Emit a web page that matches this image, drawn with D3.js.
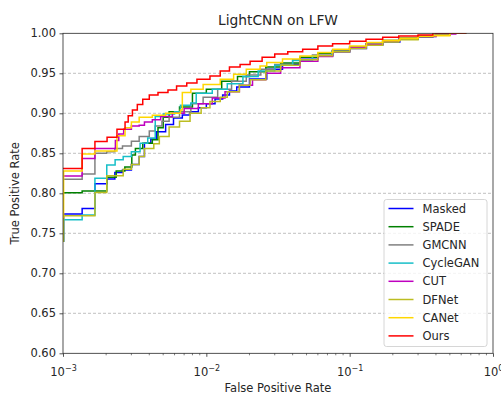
<!DOCTYPE html>
<html><head><meta charset="utf-8">
<script src="https://cdn.jsdelivr.net/npm/d3@7/dist/d3.min.js"></script>
<style>body{margin:0;background:#fff}svg{display:block;font-family:"DejaVu Sans",sans-serif}</style>
</head><body>
<svg id="c" width="501" height="396"></svg>
<script>
const title = "LightCNN on LFW";
const xLabel = "False Positive Rate";
const yLabel = "True Positive Rate";
const yTicks = [0.60,0.65,0.70,0.75,0.80,0.85,0.90,0.95,1.00];
const xTicks = [1e-3,1e-2,1e-1,1e0];
const xTickExp = ["\u22123","\u22122","\u22121","0"];
const names = ["Masked","SPADE","GMCNN","CycleGAN","CUT","DFNet","CANet","Ours"];
const colors = ["#0000ff","#008000","#808080","#17bfc8","#bf00bf","#bcbd22","#ffd700","#ff0000"];

const masked = [[0.0009,0.74],[0.00101,0.774],[0.00136,0.781],[0.00167,0.812],[0.00202,0.818],[0.0023,0.826],[0.0026,0.829],[0.0030,0.836],[0.0034,0.846],[0.0037,0.8625],[0.0041,0.868],[0.0045,0.877],[0.0052,0.886],[0.0059,0.894],[0.0068,0.898],[0.0077,0.902],[0.0088,0.907],[0.010,0.912],[0.0115,0.918],[0.013,0.923],[0.0145,0.928],[0.0163,0.933],[0.020,0.943],[0.0264,0.955],[0.034,0.961],[0.045,0.9675],[0.060,0.972],[0.0763,0.977],[0.10,0.981],[0.131,0.9854],[0.17,0.989],[0.224,0.9925],[0.30,0.995],[0.38,0.9975],[0.50,1.0],[0.65,1.0]];
const spade = [[0.0009,0.745],[0.00099,0.8008],[0.00136,0.803],[0.00202,0.820],[0.00235,0.828],[0.0027,0.833],[0.00302,0.848],[0.0032,0.856],[0.0036,0.8625],[0.0042,0.867],[0.0046,0.882],[0.0050,0.895],[0.0055,0.902],[0.0065,0.908],[0.0080,0.925],[0.0100,0.930],[0.0128,0.940],[0.0165,0.946],[0.020,0.952],[0.026,0.958],[0.033,0.963],[0.045,0.970],[0.060,0.975],[0.076,0.979],[0.10,0.983],[0.13,0.987],[0.17,0.991],[0.22,0.994],[0.30,0.997],[0.40,0.999],[0.50,1.0],[0.65,1.0]];
const gmcnn = [[0.0009,0.78],[0.00099,0.8175],[0.00136,0.824],[0.00167,0.850],[0.00202,0.852],[0.0023,0.856],[0.0026,0.859],[0.0030,0.865],[0.0034,0.871],[0.0040,0.878],[0.0044,0.884],[0.0049,0.890],[0.0055,0.895],[0.0065,0.902],[0.0078,0.912],[0.0095,0.920],[0.012,0.930],[0.015,0.940],[0.019,0.948],[0.024,0.955],[0.030,0.961],[0.040,0.967],[0.055,0.973],[0.075,0.978],[0.10,0.983],[0.13,0.987],[0.17,0.991],[0.22,0.994],[0.30,0.997],[0.40,0.999],[0.50,1.0],[0.65,1.0]];
const cyclegan = [[0.0009,0.74],[0.00101,0.767],[0.00136,0.773],[0.00167,0.8188],[0.00202,0.8354],[0.00231,0.842],[0.00263,0.846],[0.0030,0.852],[0.00345,0.8625],[0.0039,0.869],[0.0044,0.896],[0.0050,0.899],[0.0060,0.902],[0.0066,0.910],[0.0078,0.913],[0.0085,0.925],[0.011,0.930],[0.014,0.937],[0.018,0.946],[0.023,0.953],[0.030,0.960],[0.040,0.966],[0.055,0.972],[0.075,0.977],[0.10,0.982],[0.13,0.986],[0.17,0.990],[0.22,0.993],[0.30,0.996],[0.40,0.999],[0.50,1.0],[0.65,1.0]];
const cut = [[0.0009,0.78],[0.00099,0.8217],[0.00136,0.8434],[0.00167,0.856],[0.00232,0.866],[0.00245,0.874],[0.00265,0.880],[0.0030,0.884],[0.0034,0.885],[0.0037,0.889],[0.0042,0.892],[0.0048,0.896],[0.0058,0.900],[0.0070,0.906],[0.0088,0.912],[0.011,0.919],[0.0135,0.927],[0.017,0.935],[0.021,0.942],[0.026,0.950],[0.033,0.957],[0.045,0.965],[0.060,0.971],[0.076,0.977],[0.10,0.982],[0.13,0.986],[0.17,0.990],[0.22,0.993],[0.30,0.996],[0.40,0.999],[0.55,1.0],[0.65,1.0]];
const dfnet = [[0.0009,0.74],[0.00101,0.772],[0.00167,0.801],[0.00202,0.822],[0.00263,0.830],[0.0030,0.836],[0.0034,0.846],[0.0037,0.856],[0.0043,0.862],[0.0047,0.871],[0.0055,0.883],[0.0065,0.890],[0.0077,0.900],[0.0092,0.907],[0.0106,0.9146],[0.0125,0.920],[0.0140,0.927],[0.017,0.935],[0.0202,0.942],[0.026,0.953],[0.033,0.960],[0.045,0.967],[0.060,0.972],[0.076,0.977],[0.10,0.981],[0.13,0.985],[0.17,0.989],[0.22,0.992],[0.30,0.996],[0.38,0.998],[0.50,1.0],[0.65,1.0]];
const canet = [[0.0009,0.77],[0.00101,0.828],[0.00136,0.849],[0.00167,0.853],[0.00238,0.872],[0.00271,0.882],[0.0030,0.889],[0.0034,0.895],[0.0042,0.8975],[0.0052,0.900],[0.0066,0.904],[0.0068,0.926],[0.0078,0.930],[0.0095,0.936],[0.0125,0.9425],[0.0155,0.9487],[0.019,0.955],[0.0237,0.959],[0.0264,0.9634],[0.034,0.968],[0.045,0.9717],[0.060,0.976],[0.0763,0.980],[0.10,0.984],[0.131,0.9884],[0.17,0.991],[0.224,0.9938],[0.30,0.996],[0.38,0.997],[0.50,1.0],[0.65,1.0]];
const ours = [[0.00095,0.831],[0.00136,0.856],[0.00167,0.8646],[0.00203,0.870],[0.00238,0.880],[0.00271,0.889],[0.00285,0.897],[0.00305,0.904],[0.00330,0.911],[0.00360,0.9175],[0.00400,0.923],[0.00460,0.926],[0.00540,0.929],[0.00620,0.934],[0.0073,0.938],[0.0086,0.9425],[0.0106,0.9467],[0.0125,0.953],[0.0145,0.958],[0.0172,0.961],[0.0202,0.965],[0.0245,0.970],[0.030,0.974],[0.037,0.977],[0.047,0.980],[0.060,0.984],[0.076,0.987],[0.10,0.990],[0.13,0.9925],[0.17,0.995],[0.22,0.9966],[0.30,0.998],[0.38,1.0],[0.65,1.0]];
const series = [masked, spade, gmcnn, cyclegan, cut, dfnet, canet, ours];

const svg = d3.select("#c");
const L = 63, R = 493, T = 33.3, B = 353.3;
const x = d3.scaleLog().domain([1e-3, 1]).range([L, R]);
const y = d3.scaleLinear().domain([0.6, 1.0]).range([B, T]);

svg.append("defs").append("clipPath").attr("id","clip")
  .append("rect").attr("x",L).attr("y",T).attr("width",R-L).attr("height",B-T);

// grid
svg.append("g").selectAll("line").data(yTicks.slice(1, -1)).join("line")
  .attr("x1",L).attr("x2",R).attr("y1",d=>y(d)).attr("y2",d=>y(d))
  .attr("stroke","#b0b0b0").attr("stroke-width",0.8).attr("stroke-dasharray","3,2");

// lines
const line = d3.line().x(d=>x(d[0])).y(d=>y(d[1])).curve(d3.curveStepAfter);
svg.append("g").attr("clip-path","url(#clip)").selectAll("path").data(series).join("path")
  .attr("d", line).attr("fill","none").attr("stroke",(d,i)=>colors[i]).attr("stroke-width",1.5)
  .attr("stroke-linejoin","miter");

// axes
const yAxis = d3.axisLeft(y).tickValues(yTicks).tickFormat(d3.format(".2f")).tickSize(3.5).tickPadding(3.5);
const gy = svg.append("g").attr("transform",`translate(${L},0)`).call(yAxis);
gy.select(".domain").remove();
gy.selectAll("text").attr("font-size",11.5).attr("font-family","DejaVu Sans").attr("fill","#262626");
gy.selectAll("line").attr("stroke","#262626").attr("stroke-width",0.8);

const minor = [];
for (let e = -3; e < 0; e++) for (let k = 2; k < 10; k++) minor.push(k * Math.pow(10, e));
const gxm = svg.append("g").attr("transform",`translate(0,${B})`);
gxm.selectAll("line").data(minor).join("line")
  .attr("x1",d=>x(d)).attr("x2",d=>x(d)).attr("y1",0).attr("y2",2)
  .attr("stroke","#262626").attr("stroke-width",0.6);
const xAxis = d3.axisBottom(x).tickValues(xTicks).tickFormat(()=> "").tickSize(3.5);
const gx = svg.append("g").attr("transform",`translate(0,${B})`).call(xAxis);
gx.select(".domain").remove();
gx.selectAll("line").attr("stroke","#262626").attr("stroke-width",0.8);
gx.selectAll(".tick").each(function(d,i){
  const t = d3.select(this).select("text").attr("font-size",11.5).attr("font-family","DejaVu Sans")
    .attr("fill","#262626").attr("y",null).attr("dy",null).attr("text-anchor","middle")
    .attr("transform","translate(0,23)");
  t.text(null);
  t.append("tspan").text("10");
  t.append("tspan").attr("font-size",8).attr("dy",-5).text(xTickExp[i]);
});

// spines
svg.append("rect").attr("x",L).attr("y",T).attr("width",R-L).attr("height",B-T)
  .attr("fill","none").attr("stroke","#262626").attr("stroke-width",0.8);

// titles
svg.append("text").attr("x",(L+R)/2).attr("y",25).attr("text-anchor","middle")
  .attr("font-size",13.8).attr("fill","#262626").text(title);
svg.append("text").attr("x",(L+R)/2).attr("y",392).attr("text-anchor","middle")
  .attr("font-size",11.5).attr("fill","#262626").text(xLabel);
svg.append("text").attr("transform",`translate(19,${(T+B)/2}) rotate(-90)`).attr("text-anchor","middle")
  .attr("font-size",11.5).attr("fill","#262626").text(yLabel);

// legend
const lg = svg.append("g");
lg.append("rect").attr("x",384).attr("y",199.5).attr("width",103).attr("height",147).attr("rx",2.5)
  .attr("fill","#fff").attr("fill-opacity",0.8).attr("stroke","#cccccc").attr("stroke-width",0.8);
names.forEach((n,i)=>{
  const cy = 208.5 + i*18.2;
  lg.append("line").attr("x1",388.5).attr("x2",413.5).attr("y1",cy).attr("y2",cy)
    .attr("stroke",colors[i]).attr("stroke-width",1.5);
  lg.append("text").attr("x",422.5).attr("y",cy+4).attr("font-size",11.5).attr("fill","#262626").text(n);
});
</script>
</body></html>
